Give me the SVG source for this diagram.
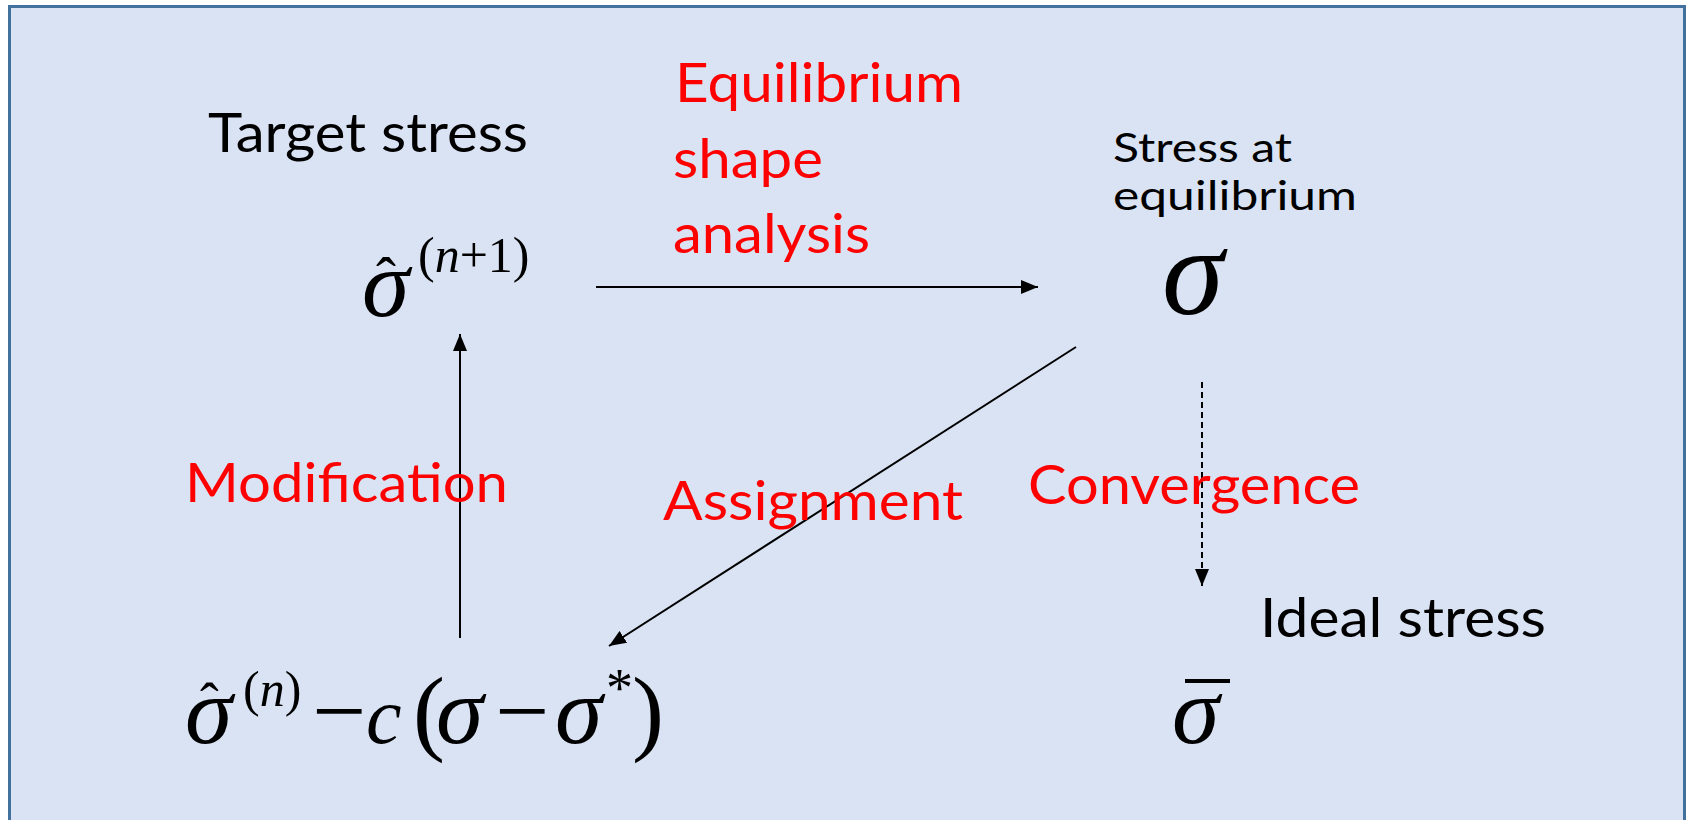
<svg xmlns="http://www.w3.org/2000/svg" width="1686" height="820" viewBox="0 0 1686 820">
<style>
.lbl{font-family:Lato,"Liberation Sans",sans-serif;fill:#000}
.red{fill:#FF0000}
.m{font-family:"Liberation Serif","Times New Roman",serif;fill:#000}
.i{font-style:italic}
.conn{stroke:#000;stroke-width:2;fill:none}
</style>
<defs>
<marker id="ah" markerUnits="userSpaceOnUse" markerWidth="18" markerHeight="14" refX="17" refY="7" orient="auto">
<path d="M0,0 L17,7 L0,14 Z" fill="#000"/>
</marker>
</defs>
<rect x="0" y="0" width="1686" height="820" fill="#fff"/>
<rect x="9.5" y="6.5" width="1675" height="830" fill="#DAE3F3" stroke="#41719C" stroke-width="3"/>

<g id="connectors">
<line class="conn" x1="596" y1="287" x2="1038" y2="287" marker-end="url(#ah)"/>
<line class="conn" x1="460" y1="638" x2="460" y2="334" marker-end="url(#ah)"/>
<line class="conn" x1="1076" y1="347" x2="609" y2="646" marker-end="url(#ah)"/>
<line class="conn" x1="1202" y1="382" x2="1202" y2="586" stroke-dasharray="6 4" marker-end="url(#ah)"/>
</g>

<g id="target">
<text class="lbl" x="208" y="152" font-size="55" textLength="320" lengthAdjust="spacingAndGlyphs">Target stress</text>
<text class="m" font-size="96"><tspan class="i" x="362" y="316">σ</tspan><tspan x="376" y="298" font-size="60">ˆ</tspan><tspan x="418" y="272" font-size="50">(</tspan><tspan class="i" font-size="50">n</tspan><tspan font-size="50">+1)</tspan></text>
</g>

<g id="equilibrium">
<text class="lbl" x="1113" y="162" font-size="40" textLength="179" lengthAdjust="spacingAndGlyphs">Stress at</text>
<text class="lbl" x="1113" y="210" font-size="40" textLength="244" lengthAdjust="spacingAndGlyphs">equilibrium</text>
<text class="m i" x="1162" y="314" font-size="125">σ</text>
</g>

<g id="modified">
<text class="m" font-size="96"><tspan class="i" x="185" y="743">σ</tspan><tspan x="200" y="722" font-size="56">ˆ</tspan><tspan x="243" y="706" font-size="50">(</tspan><tspan class="i" font-size="50">n</tspan><tspan font-size="50">)</tspan><tspan x="312" y="743">−</tspan><tspan class="i" x="366" font-size="80">c</tspan><tspan x="413">(</tspan><tspan class="i" x="436">σ</tspan><tspan x="495">−</tspan><tspan class="i" x="555">σ</tspan><tspan x="606" y="706" font-size="54">*</tspan><tspan x="632" y="743">)</tspan></text>
</g>

<g id="ideal">
<text class="lbl" x="1260" y="637" font-size="55" textLength="286" lengthAdjust="spacingAndGlyphs">Ideal stress</text>
<text class="m i" x="1172" y="743" font-size="96">σ</text>
<rect x="1185" y="679" width="45" height="4" fill="#000"/>
</g>

<g id="labels">
<text class="lbl red" x="675" y="102" font-size="55" textLength="288" lengthAdjust="spacingAndGlyphs">Equilibrium</text>
<text class="lbl red" x="673" y="178" font-size="55" textLength="150" lengthAdjust="spacingAndGlyphs">shape</text>
<text class="lbl red" x="673" y="253" font-size="55" textLength="197" lengthAdjust="spacingAndGlyphs">analysis</text>
<text class="lbl red" x="185" y="502" font-size="55" textLength="323" lengthAdjust="spacingAndGlyphs">Modification</text>
<text class="lbl red" x="663" y="520" font-size="55" textLength="300" lengthAdjust="spacingAndGlyphs">Assignment</text>
<text class="lbl red" x="1028" y="504" font-size="55" textLength="332" lengthAdjust="spacingAndGlyphs">Convergence</text>
</g>
</svg>
